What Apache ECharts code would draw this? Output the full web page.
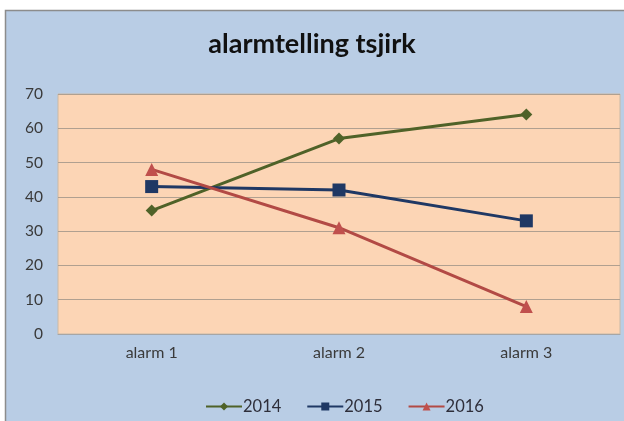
<!DOCTYPE html>
<html>
<head>
<meta charset="utf-8">
<script src="https://cdn.jsdelivr.net/npm/echarts@6/dist/echarts.min.js"></script>
<style>
html,body{margin:0;padding:0;background:#ffffff;}
#chart{width:624px;height:421px;}
</style>
</head>
<body>
<div id="chart"></div>
<script>
const categories = ['alarm 1', 'alarm 2', 'alarm 3'];
const seriesNames = ['2014', '2015', '2016'];
const values2014 = [36, 57, 64];
const values2015 = [43, 42, 33];
const values2016 = [48, 31, 8];
const titleText = 'alarmtelling tsjirk';

const chart = echarts.init(document.getElementById('chart'), null, {renderer: 'canvas'});
const font = 'Lato, "Open Sans", sans-serif';
chart.setOption({
  animation: false,
  backgroundColor: '#ffffff',
  graphic: [{
    type: 'rect',
    z: -10,
    silent: true,
    shape: {x: 5.5, y: 10.5, width: 640, height: 430},
    style: {fill: '#B9CDE5', stroke: '#8C8C8C', lineWidth: 1.5}
  }],
  title: {
    text: titleText,
    left: 'center',
    top: 26,
    textStyle: {fontFamily: font, fontWeight: 'bold', fontSize: 27, color: '#111111'}
  },
  legend: {
    data: seriesNames,
    top: 393,
    left: 200,
    itemWidth: 36,
    itemHeight: 10,
    itemGap: 25,
    textStyle: {fontFamily: font, fontSize: 16.5, color: '#2e2e3a', padding: [0, 0, 0, -4]}
  },
  grid: {
    left: 58, right: 4, top: 94, bottom: 87,
    show: true,
    backgroundColor: '#FCD5B5',
    borderColor: '#C9B9A6',
    borderWidth: 1
  },
  xAxis: {
    type: 'category',
    data: categories,
    boundaryGap: true,
    axisLine: {show: true, lineStyle: {color: '#A6A6A6'}},
    axisTick: {show: false},
    axisLabel: {fontFamily: font, fontSize: 16, color: '#3a3a3a', margin: 11}
  },
  yAxis: {
    type: 'value',
    min: 0, max: 70, interval: 10,
    axisLine: {show: false},
    axisTick: {show: false},
    axisLabel: {fontFamily: font, fontSize: 15.5, color: '#3a3a3a', margin: 15},
    splitLine: {lineStyle: {color: '#B0A090', width: 1}}
  },
  series: [
    {
      name: seriesNames[0], type: 'line', data: values2014,
      symbol: 'diamond', symbolSize: 12,
      lineStyle: {color: '#4F6228', width: 3},
      itemStyle: {color: '#4F6228'}
    },
    {
      name: seriesNames[1], type: 'line', data: values2015,
      symbol: 'rect', symbolSize: 13,
      lineStyle: {color: '#1F3864', width: 3},
      itemStyle: {color: '#1F3864'}
    },
    {
      name: seriesNames[2], type: 'line', data: values2016,
      symbol: 'triangle', symbolSize: 13,
      lineStyle: {color: '#B24A45', width: 3},
      itemStyle: {color: '#C0504D'}
    }
  ]
});
</script>
</body>
</html>
